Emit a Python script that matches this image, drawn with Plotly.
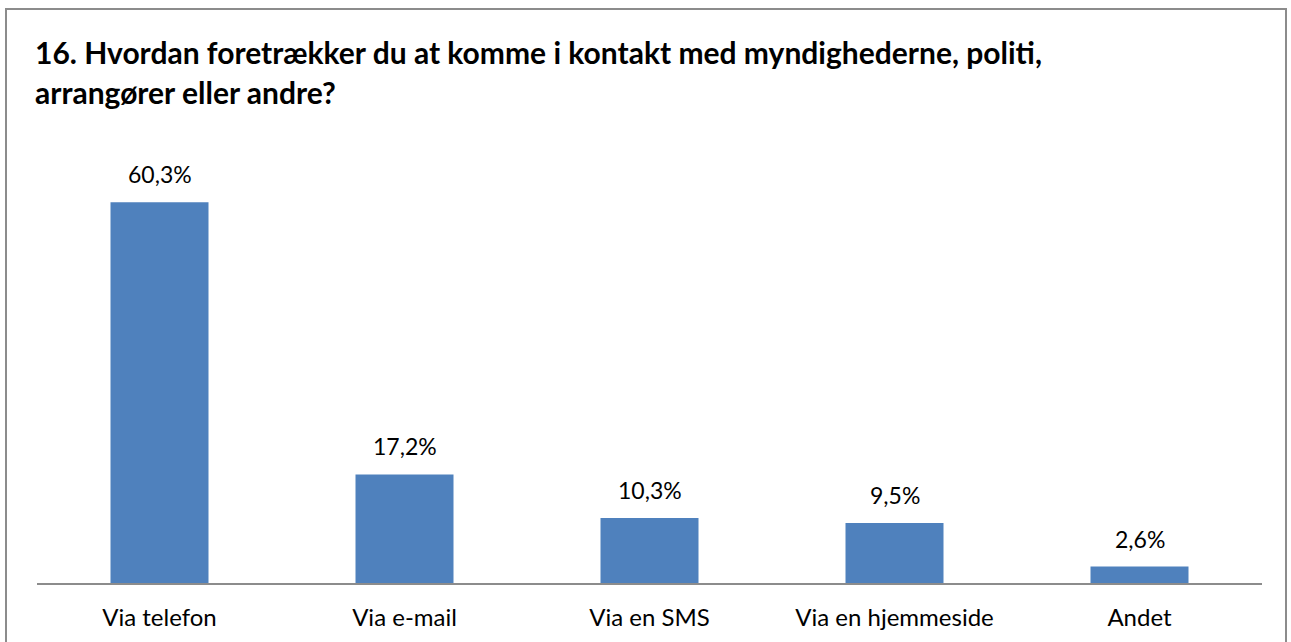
import plotly.graph_objects as go

categories = ["Via telefon", "Via e-mail", "Via en SMS", "Via en hjemmeside", "Andet"]
values = [60.3, 17.2, 10.3, 9.5, 2.6]
labels = ["60,3%", "17,2%", "10,3%", "9,5%", "2,6%"]
title_lines = ["16. Hvordan foretrækker du at komme i kontakt med myndighederne, politi,",
               "arrangører eller andre?"]

W, H = 1291, 642
# pixel geometry of plot area
SL, SR, ST, SB = 37, 1262, 141, 583
L, T, R, B = SL, ST, W - SR, H - SB
pw, ph = SR - SL, SB - ST

def px_x(x):
    return (x - SL) / pw

def px_y(y):
    return (SB - y) / ph

fig = go.Figure()
fig.add_trace(go.Bar(x=categories, y=values, marker=dict(color="#4F81BD", line=dict(width=0)),
                     width=0.4, hoverinfo="skip"))

for c, v, t in zip(categories, values, labels):
    fig.add_annotation(x=c, y=v, text=t, showarrow=False, yanchor="bottom", yshift=12,
                       font=dict(family="Lato", size=23, color="#000"))

fig.add_annotation(xref="paper", yref="paper", x=px_x(33), y=px_y(52), xanchor="left", yanchor="middle",
                   text="<b>%s</b>" % title_lines[0], showarrow=False,
                   font=dict(family="Lato", size=30, color="#000"))
fig.add_annotation(xref="paper", yref="paper", x=px_x(33), y=px_y(92), xanchor="left", yanchor="middle",
                   text="<b>%s</b>" % title_lines[1], showarrow=False,
                   font=dict(family="Lato", size=30, color="#000"))

fig.add_shape(type="rect", xref="paper", yref="paper", x0=px_x(6), x1=px_x(1286),
              y0=px_y(660), y1=px_y(9), line=dict(color="#8c8c8c", width=2), layer="below")

fig.update_layout(
    width=W, height=H, margin=dict(l=L, r=R, t=T, b=B),
    paper_bgcolor="white", plot_bgcolor="white", showlegend=False,
    xaxis=dict(showline=True, linecolor="#8c8c8c", linewidth=2, ticks="", showgrid=False,
               tickfont=dict(family="Lato", size=24, color="#000"), ticklabelstandoff=12),
    yaxis=dict(range=[0, 70], visible=False, showgrid=False, zeroline=False),
)
fig.write_html("out.html", config={"displayModeBar": False},
               post_script="document.body.style.margin='0';document.body.style.overflow='hidden';")
